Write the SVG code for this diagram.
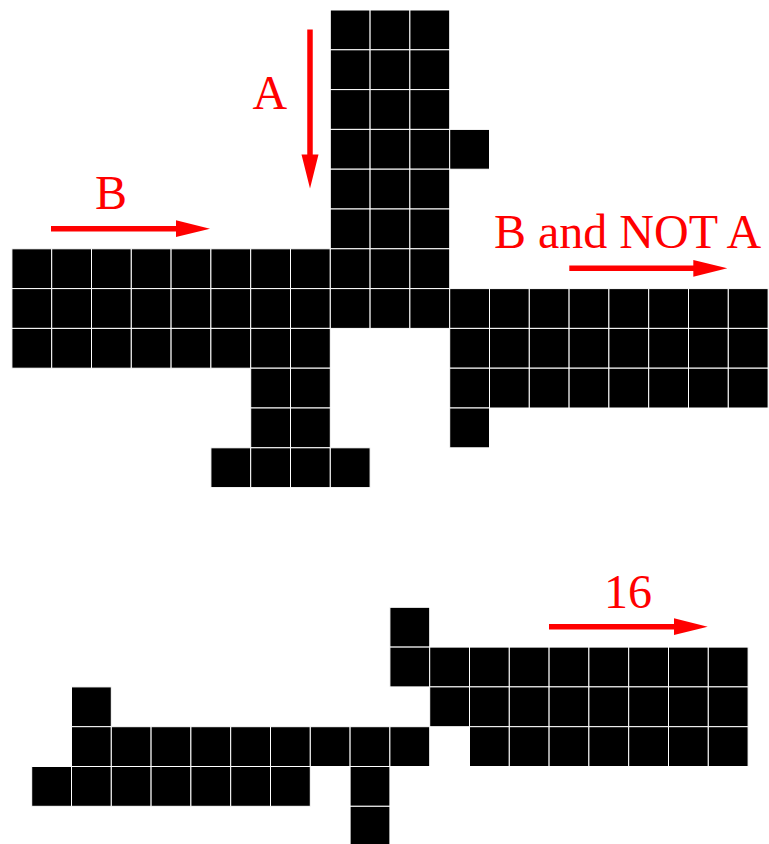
<svg xmlns="http://www.w3.org/2000/svg" width="769" height="844" viewBox="0 0 769 844">
<style>
.cell{fill:#000;stroke:#fff;stroke-width:1}
.shaft{stroke:#f00;stroke-width:5.5;fill:none}
.head{fill:#f00}
.lbl{font-family:"Liberation Serif","Times New Roman",serif;font-size:48px;fill:#f00}
</style>
<defs>
<rect id="c" class="cell" width="39.8" height="39.8"/>
</defs>
<rect width="769" height="844" fill="#fff"/>
<g id="top-grid">
<use href="#c" x="330.3" y="10"/><use href="#c" x="370.1" y="10"/><use href="#c" x="409.9" y="10"/>
<use href="#c" x="330.3" y="49.8"/><use href="#c" x="370.1" y="49.8"/><use href="#c" x="409.9" y="49.8"/>
<use href="#c" x="330.3" y="89.6"/><use href="#c" x="370.1" y="89.6"/><use href="#c" x="409.9" y="89.6"/>
<use href="#c" x="330.3" y="129.4"/><use href="#c" x="370.1" y="129.4"/><use href="#c" x="409.9" y="129.4"/><use href="#c" x="449.7" y="129.4"/>
<use href="#c" x="330.3" y="169.2"/><use href="#c" x="370.1" y="169.2"/><use href="#c" x="409.9" y="169.2"/>
<use href="#c" x="330.3" y="209"/><use href="#c" x="370.1" y="209"/><use href="#c" x="409.9" y="209"/>
<use href="#c" x="11.9" y="248.8"/><use href="#c" x="51.7" y="248.8"/><use href="#c" x="91.5" y="248.8"/><use href="#c" x="131.3" y="248.8"/><use href="#c" x="171.1" y="248.8"/><use href="#c" x="210.9" y="248.8"/><use href="#c" x="250.7" y="248.8"/><use href="#c" x="290.5" y="248.8"/><use href="#c" x="330.3" y="248.8"/><use href="#c" x="370.1" y="248.8"/><use href="#c" x="409.9" y="248.8"/>
<use href="#c" x="11.9" y="288.6"/><use href="#c" x="51.7" y="288.6"/><use href="#c" x="91.5" y="288.6"/><use href="#c" x="131.3" y="288.6"/><use href="#c" x="171.1" y="288.6"/><use href="#c" x="210.9" y="288.6"/><use href="#c" x="250.7" y="288.6"/><use href="#c" x="290.5" y="288.6"/><use href="#c" x="330.3" y="288.6"/><use href="#c" x="370.1" y="288.6"/><use href="#c" x="409.9" y="288.6"/><use href="#c" x="449.7" y="288.6"/><use href="#c" x="489.5" y="288.6"/><use href="#c" x="529.3" y="288.6"/><use href="#c" x="569.1" y="288.6"/><use href="#c" x="608.9" y="288.6"/><use href="#c" x="648.7" y="288.6"/><use href="#c" x="688.5" y="288.6"/><use href="#c" x="728.3" y="288.6"/>
<use href="#c" x="11.9" y="328.4"/><use href="#c" x="51.7" y="328.4"/><use href="#c" x="91.5" y="328.4"/><use href="#c" x="131.3" y="328.4"/><use href="#c" x="171.1" y="328.4"/><use href="#c" x="210.9" y="328.4"/><use href="#c" x="250.7" y="328.4"/><use href="#c" x="290.5" y="328.4"/><use href="#c" x="449.7" y="328.4"/><use href="#c" x="489.5" y="328.4"/><use href="#c" x="529.3" y="328.4"/><use href="#c" x="569.1" y="328.4"/><use href="#c" x="608.9" y="328.4"/><use href="#c" x="648.7" y="328.4"/><use href="#c" x="688.5" y="328.4"/><use href="#c" x="728.3" y="328.4"/>
<use href="#c" x="250.7" y="368.2"/><use href="#c" x="290.5" y="368.2"/><use href="#c" x="449.7" y="368.2"/><use href="#c" x="489.5" y="368.2"/><use href="#c" x="529.3" y="368.2"/><use href="#c" x="569.1" y="368.2"/><use href="#c" x="608.9" y="368.2"/><use href="#c" x="648.7" y="368.2"/><use href="#c" x="688.5" y="368.2"/><use href="#c" x="728.3" y="368.2"/>
<use href="#c" x="250.7" y="408"/><use href="#c" x="290.5" y="408"/><use href="#c" x="449.7" y="408"/>
<use href="#c" x="210.9" y="447.8"/><use href="#c" x="250.7" y="447.8"/><use href="#c" x="290.5" y="447.8"/><use href="#c" x="330.3" y="447.8"/>
</g>
<g id="bottom-grid">
<use href="#c" x="389.9" y="607.3"/>
<use href="#c" x="389.9" y="647.1"/><use href="#c" x="429.7" y="647.1"/><use href="#c" x="469.5" y="647.1"/><use href="#c" x="509.3" y="647.1"/><use href="#c" x="549.1" y="647.1"/><use href="#c" x="588.9" y="647.1"/><use href="#c" x="628.7" y="647.1"/><use href="#c" x="668.5" y="647.1"/><use href="#c" x="708.3" y="647.1"/>
<use href="#c" x="71.5" y="686.9"/><use href="#c" x="429.7" y="686.9"/><use href="#c" x="469.5" y="686.9"/><use href="#c" x="509.3" y="686.9"/><use href="#c" x="549.1" y="686.9"/><use href="#c" x="588.9" y="686.9"/><use href="#c" x="628.7" y="686.9"/><use href="#c" x="668.5" y="686.9"/><use href="#c" x="708.3" y="686.9"/>
<use href="#c" x="71.5" y="726.7"/><use href="#c" x="111.3" y="726.7"/><use href="#c" x="151.1" y="726.7"/><use href="#c" x="190.9" y="726.7"/><use href="#c" x="230.7" y="726.7"/><use href="#c" x="270.5" y="726.7"/><use href="#c" x="310.3" y="726.7"/><use href="#c" x="350.1" y="726.7"/><use href="#c" x="389.9" y="726.7"/><use href="#c" x="469.5" y="726.7"/><use href="#c" x="509.3" y="726.7"/><use href="#c" x="549.1" y="726.7"/><use href="#c" x="588.9" y="726.7"/><use href="#c" x="628.7" y="726.7"/><use href="#c" x="668.5" y="726.7"/><use href="#c" x="708.3" y="726.7"/>
<use href="#c" x="31.7" y="766.5"/><use href="#c" x="71.5" y="766.5"/><use href="#c" x="111.3" y="766.5"/><use href="#c" x="151.1" y="766.5"/><use href="#c" x="190.9" y="766.5"/><use href="#c" x="230.7" y="766.5"/><use href="#c" x="270.5" y="766.5"/><use href="#c" x="350.1" y="766.5"/>
<use href="#c" x="350.1" y="806.3"/>
</g>
<g id="arrows">
<line class="shaft" x1="310" y1="29.5" x2="310" y2="157"/>
<polygon class="head" points="301.5,154.5 318.5,154.5 310,188.5"/>
<line class="shaft" x1="51" y1="228.7" x2="179" y2="228.7"/>
<polygon class="head" points="176,220.3 176,237 210,228.7"/>
<line class="shaft" x1="569.3" y1="268.3" x2="696" y2="268.3"/>
<polygon class="head" points="693.3,260 693.3,276.7 727.3,268.3"/>
<line class="shaft" x1="549" y1="626.7" x2="677" y2="626.7"/>
<polygon class="head" points="674,618.3 674,635 707.7,626.7"/>
</g>
<g id="labels">
<text class="lbl" x="252.5" y="109">A</text>
<text class="lbl" x="95" y="209">B</text>
<text class="lbl" x="494" y="248">B and NOT A</text>
<text class="lbl" x="604" y="607.7">16</text>
</g>
</svg>
